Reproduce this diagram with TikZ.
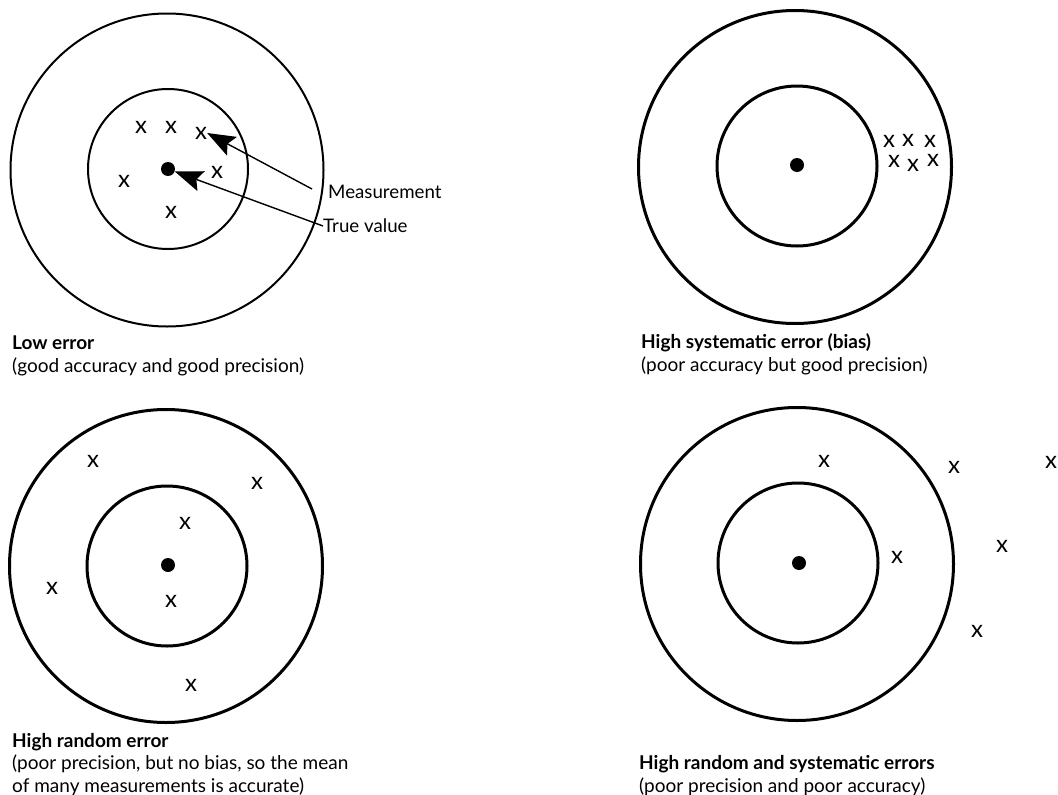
\documentclass[tikz,border=0pt]{standalone}
\usepackage{fontspec}
\setmainfont{Lato}
\usetikzlibrary{arrows.meta}
\begin{document}
\begin{tikzpicture}[x=1pt,y=-1pt,
  ring/.style={draw,circle,inner sep=0pt,minimum size=#1},
  bullseye/.style={circle,fill,inner sep=0pt,minimum size=14pt},
  hit/.style={inner sep=0pt,font=\fontsize{24}{24}\selectfont},
  caption/.style={anchor=base west,align=left,inner sep=0pt,font=\fontsize{19}{22.5}\selectfont},
  callout/.style={anchor=west,inner sep=0pt,font=\fontsize{18.7}{20}\selectfont},
  pointer/.style={line width=1.4pt,-{Stealth[length=28pt,width=21pt,inset=5pt]}}]
\useasboundingbox (0,0) rectangle (1058,795);

% --- Low error ---
\begin{scope}[line width=2pt]
\node[ring=313pt] (o1) at (167,170) {};
\node[ring=160pt] (i1) at (168,169) {};
\end{scope}
\node[bullseye] (d1) at (168,169) {};
\node[hit] (a1) at (141,127) {x};
\node[hit] (a2) at (171,127) {x};
\node[hit] (a3) at (201,133) {x};
\node[hit] (a4) at (217,172) {x};
\node[hit] (a5) at (124,181) {x};
\node[hit] (a6) at (171,212) {x};
\node[callout] (meas) at (328,192) {Measurement};
\node[callout] (tv) at (323,226) {True value};
\coordinate (mtail) at (312,189);
\draw[pointer] (mtail) -- (a3.east);
\draw[pointer] (tv.west) -- (d1);
% the base anchor of a two-line caption sits on its last line
\node[caption] (c1) at (12,372) {\textbf{Low error}\\(good accuracy and good precision)};

% --- High systematic error ---
\begin{scope}[line width=3pt]
\node[ring=313pt] (o2) at (795,167) {};
\node[ring=160pt] (i2) at (797,166) {};
\end{scope}
\node[bullseye] (d2) at (797,165) {};
\node[hit] (b1) at (889,141) {x};
\node[hit] (b2) at (908,140) {x};
\node[hit] (b3) at (930,141) {x};
\node[hit] (b4) at (894,161) {x};
\node[hit] (b5) at (913,165) {x};
\node[hit] (b6) at (933,160) {x};
\node[caption] (c2) at (641,371) {\textbf{High systematic error (bias)}\\(poor accuracy but good precision)};

% --- High random error ---
\begin{scope}[line width=3pt]
\node[ring=313pt] (o3) at (166,566) {};
\node[ring=160pt] (i3) at (167,566) {};
\end{scope}
\node[bullseye] (d3) at (168,565) {};
\node[hit] (e1) at (93,461) {x};
\node[hit] (e2) at (257,483) {x};
\node[hit] (e3) at (185,523) {x};
\node[hit] (e4) at (52,588) {x};
\node[hit] (e5) at (171,601) {x};
\node[hit] (e6) at (191,685) {x};
\node[caption] (c3) at (12,792) {\textbf{High random error}\\(poor precision, but no bias, so the mean\\of many measurements is accurate)};

% --- High random and systematic errors ---
\begin{scope}[line width=3pt]
\node[ring=313pt] (o4) at (797,564) {};
\node[ring=160pt] (i4) at (798,563) {};
\end{scope}
\node[bullseye] (d4) at (799,563) {};
\node[hit] (f1) at (824,461) {x};
\node[hit] (f2) at (954,467) {x};
\node[hit] (f3) at (1051,462) {x};
\node[hit] (f4) at (1002,546) {x};
\node[hit] (f5) at (897,557) {x};
\node[hit] (f6) at (977,631) {x};
\node[caption] (c4) at (639,792) {\textbf{High random and systematic errors}\\(poor precision and poor accuracy)};
\end{tikzpicture}
\end{document}
